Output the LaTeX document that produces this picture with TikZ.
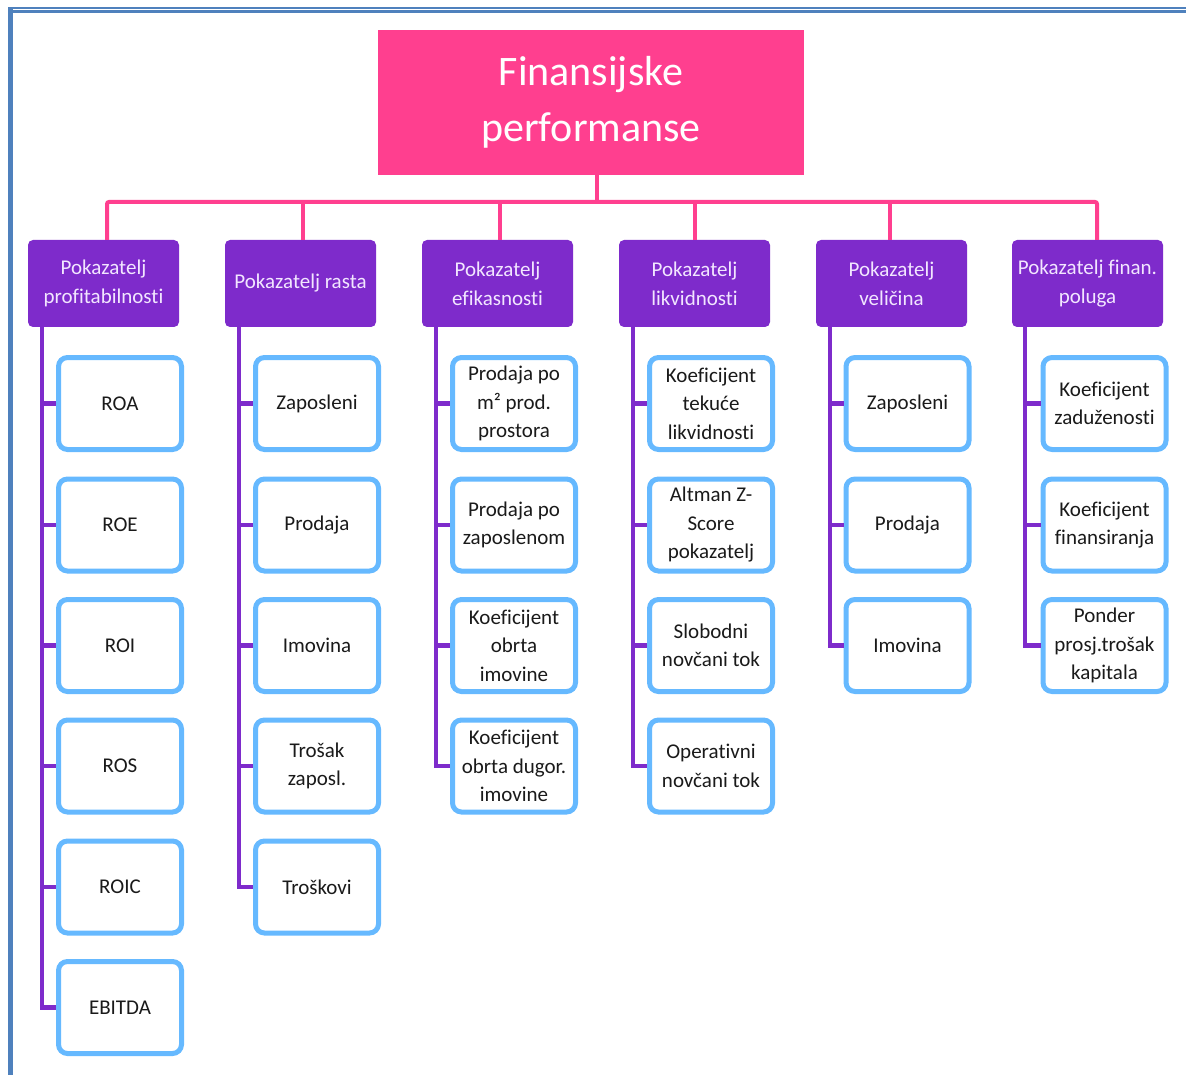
\documentclass[tikz,border=0pt]{standalone}
\usepackage{fontspec}
\setmainfont[Ligatures=NoCommon]{Carlito}
\definecolor{pinkc}{HTML}{FF3F8F}
\definecolor{purp}{HTML}{7E2BCB}
\definecolor{lblue}{HTML}{66B9FF}
\definecolor{frameb}{HTML}{4F81BD}
\definecolor{headtxt}{HTML}{F2E6FF}
\definecolor{boxtxt}{HTML}{1A1A1A}
\begin{document}
\begin{tikzpicture}[x=1pt,y=-1pt,
  titlebox/.style={fill=pinkc, draw=none, minimum width=426pt, minimum height=145pt, inner sep=0pt,
    text=white, align=center, font=\fontsize{42}{56}\selectfont},
  headbox/.style={fill=purp, draw=none, rounded corners=5pt, minimum width=151pt, minimum height=87pt, inner sep=0pt,
    text=headtxt, align=center, font=\fontsize{21}{29}\selectfont},
  leafbox/.style={fill=white, draw=lblue, line width=5pt, rounded corners=9pt, minimum width=123pt, minimum height=92pt, inner sep=0pt,
    text=boxtxt, align=center, font=\fontsize{21}{28.5}\selectfont},
  pinkline/.style={draw=pinkc, line width=4pt},
  purpline/.style={draw=purp, line width=4.5pt}]
\useasboundingbox (0,0) rectangle (1186,1075);
% frame
\fill[frameb] (8,7) rectangle (12.7,1075);
\fill[frameb] (8,7) rectangle (1186,8.7);
\fill[frameb] (12.7,10) rectangle (1186,13);

\node[titlebox] (title) at (591,102.5) {Finansijske\\performanse};

\node[headbox] (h1) at (103.5,283.5) {Pokazatelj\\profitabilnosti};
\node[headbox] (h2) at (300.5,283.5) {Pokazatelj rasta};
\node[headbox] (h3) at (497.5,283.5) {Pokazatelj\\efikasnosti};
\node[headbox] (h4) at (694.5,283.5) {Pokazatelj\\likvidnosti};
\node[headbox] (h5) at (891.5,283.5) {Pokazatelj\\veličina};
\node[headbox] (h6) at (1087.5,283.5) {Pokazatelj finan.\\poluga};

\coordinate (b0) at (597,202);
\coordinate (b1) at (107,202);
\coordinate (b2) at (303,202);
\coordinate (b3) at (500,202);
\coordinate (b4) at (695,202);
\coordinate (b5) at (890,202);
\coordinate (b6) at (1097,202);
\draw[pinkline] (b0 |- title.south) -- (b0);
\draw[pinkline, rounded corners=2pt] (b1 |- h1.north) -- (b1) -- (b6) -- (b6 |- h6.north);
\draw[pinkline] (b2) -- (b2 |- h2.north);
\draw[pinkline] (b3) -- (b3 |- h3.north);
\draw[pinkline] (b4) -- (b4 |- h4.north);
\draw[pinkline] (b5) -- (b5 |- h5.north);

% leaves column 1
\node[leafbox] (c1r1) at (120,403.5) {ROA};
\node[leafbox] (c1r2) at (120,525) {ROE};
\node[leafbox] (c1r3) at (120,645.5) {ROI};
\node[leafbox] (c1r4) at (120,766) {ROS};
\node[leafbox] (c1r5) at (120,887) {ROIC};
\node[leafbox] (c1r6) at (120,1007.5) {EBITDA};
% column 2
\node[leafbox] (c2r1) at (317,403.5) {Zaposleni};
\node[leafbox] (c2r2) at (317,525) {Prodaja};
\node[leafbox] (c2r3) at (317,645.5) {Imovina};
\node[leafbox] (c2r4) at (317,766) {Trošak\\zaposl.};
\node[leafbox] (c2r5) at (317,887) {Troškovi};
% column 3
\node[leafbox] (c3r1) at (514,403.5) {Prodaja po\\m² prod.\\prostora};
\node[leafbox] (c3r2) at (514,525) {Prodaja po\\zaposlenom};
\node[leafbox] (c3r3) at (514,645.5) {Koeficijent\\obrta\\imovine};
\node[leafbox] (c3r4) at (514,766) {Koeficijent\\obrta dugor.\\imovine};
% column 4
\node[leafbox] (c4r1) at (711,403.5) {Koeficijent\\tekuće\\likvidnosti};
\node[leafbox] (c4r2) at (711,525) {Altman Z-\\Score\\pokazatelj};
\node[leafbox] (c4r3) at (711,645.5) {Slobodni\\novčani tok};
\node[leafbox] (c4r4) at (711,766) {Operativni\\novčani tok};
% column 5
\node[leafbox] (c5r1) at (907.5,403.5) {Zaposleni};
\node[leafbox] (c5r2) at (907.5,525) {Prodaja};
\node[leafbox] (c5r3) at (907.5,645.5) {Imovina};
% column 6
\node[leafbox] (c6r1) at (1104.5,403.5) {Koeficijent\\zaduženosti};
\node[leafbox] (c6r2) at (1104.5,525) {Koeficijent\\finansiranja};
\node[leafbox] (c6r3) at (1104.5,645.5) {Ponder\\prosj.trošak\\kapitala};

% trunks
\coordinate (t1) at (42,0);
\coordinate (t2) at (239,0);
\coordinate (t3) at (436,0);
\coordinate (t4) at (633,0);
\coordinate (t5) at (830,0);
\coordinate (t6) at (1025,0);
\draw[purpline] (t1 |- h1.south) |- (c1r6.west);
\draw[purpline] (t2 |- h2.south) |- (c2r5.west);
\draw[purpline] (t3 |- h3.south) |- (c3r4.west);
\draw[purpline] (t4 |- h4.south) |- (c4r4.west);
\draw[purpline] (t5 |- h5.south) |- (c5r3.west);
\draw[purpline] (t6 |- h6.south) |- (c6r3.west);
\foreach \r in {1,...,5} \draw[purpline] (t1 |- c1r\r.west) -- (c1r\r.west);
\foreach \r in {1,...,4} \draw[purpline] (t2 |- c2r\r.west) -- (c2r\r.west);
\foreach \r in {1,...,3} \draw[purpline] (t3 |- c3r\r.west) -- (c3r\r.west);
\foreach \r in {1,...,3} \draw[purpline] (t4 |- c4r\r.west) -- (c4r\r.west);
\foreach \r in {1,...,2} \draw[purpline] (t5 |- c5r\r.west) -- (c5r\r.west);
\foreach \r in {1,...,2} \draw[purpline] (t6 |- c6r\r.west) -- (c6r\r.west);
\end{tikzpicture}
\end{document}
